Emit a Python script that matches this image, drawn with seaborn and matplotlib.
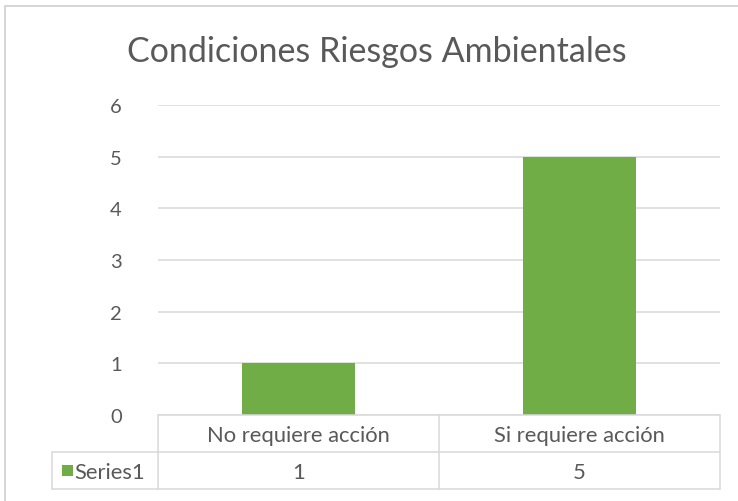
import matplotlib
matplotlib.use('Agg')
import matplotlib.pyplot as plt
import seaborn as sns
import pandas as pd
from matplotlib.lines import Line2D
from matplotlib.patches import Rectangle

# chart data
categories = ['No requiere acción', 'Si requiere acción']
values = [1, 5]
series_name = 'Series1'
title = 'Condiciones Riesgos Ambientales'

W, H = 738, 502
green = '#70AD47'
grid_c = '#D9D9D9'
text_c = '#595959'


def fx(px):
    return px / W


def fy(py):
    return 1 - py / H


sns.set_theme(style='white')
plt.rcParams['font.family'] = ['Lato', 'DejaVu Sans']

fig = plt.figure(figsize=(W / 100, H / 100), dpi=100)
ax = fig.add_axes([fx(158), fy(416), fx(720) - fx(158), fy(106) - fy(416)])

df = pd.DataFrame({'cat': categories, 'val': values})
sns.barplot(data=df, x='cat', y='val', color=green, width=0.4, saturation=1,
            linewidth=0, ax=ax)

ax.set_xlim(-0.5, len(categories) - 0.5)
ax.set_ylim(0, 6)
ax.set_yticks(range(0, 7))
ax.yaxis.grid(True, color=grid_c, linewidth=1.1)
ax.set_axisbelow(True)
for s in ax.spines.values():
    s.set_visible(False)
ax.set_xticks([])
ax.set_xlabel('')
ax.set_ylabel('')
ax.tick_params(axis='y', length=0, pad=26, labelsize=14.5, labelcolor=text_c)

# title
fig.text(fx(377), fy(52), title, ha='center', va='center', fontsize=24.5, color=text_c)

# outer chart border
fig.add_artist(Rectangle((fx(5), fy(540)), fx(760), fy(7) - fy(540), transform=fig.transFigure,
                         fill=False, edgecolor='#D0D0D0', linewidth=1.2))

# data table
col_x = [52, 158, 439, 720]
lines = [
    ((158, 720), (416, 416)),
    ((52, 720), (453, 453)),
    ((52, 720), (490, 490)),
    ((158, 158), (416, 490)),
    ((439, 439), (416, 490)),
    ((720, 720), (416, 490)),
    ((52, 52), (453, 490)),
]
for (x0, x1), (y0, y1) in lines:
    fig.add_artist(Line2D([fx(x0), fx(x1)], [fy(y0), fy(y1)], transform=fig.transFigure,
                          color=grid_c, linewidth=1.1))

for i, cat in enumerate(categories):
    cx = (col_x[i + 1] + col_x[i + 2]) / 2
    fig.text(fx(cx), fy(436), cat, ha='center', va='center', fontsize=15.8, color=text_c)
    fig.text(fx(cx), fy(473), str(values[i]), ha='center', va='center', fontsize=15.8, color=text_c)

fig.add_artist(Rectangle((fx(62), fy(477)), fx(11), fy(466) - fy(477), transform=fig.transFigure,
                         facecolor=green, edgecolor='none'))
fig.text(fx(74), fy(473), series_name, ha='left', va='center', fontsize=15.8, color=text_c)

fig.savefig('out.png', dpi=100)
